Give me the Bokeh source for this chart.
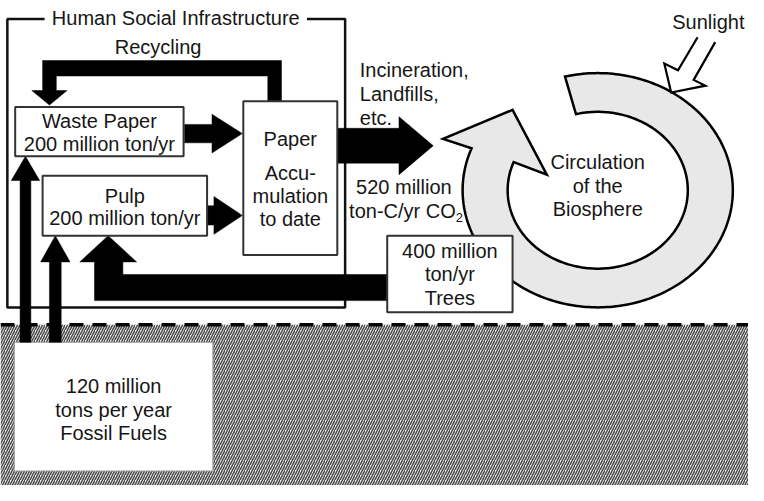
import numpy as np
from bokeh.plotting import figure
from bokeh.models import Range1d
from bokeh.core.properties import value
from bokeh.embed import file_html
from bokeh.resources import INLINE

# ---------------- data (texts of the diagram) ----------------
title_text = "Human Social Infrastructure"
recycling_label = "Recycling"
waste_lines = ["Waste Paper", "200 million ton/yr"]
pulp_lines = ["Pulp", "200 million ton/yr"]
paper_lines = ["Paper", "Accu-", "mulation", "to date"]
disposal_lines = ["Incineration,", "Landfills,", "etc."]
co2_lines = ["520 million", "ton-C/yr CO"]
co2_sub = "2"
biosphere_lines = ["Circulation", "of the", "Biosphere"]
trees_lines = ["400 million", "ton/yr", "Trees"]
fossil_lines = ["120 million", "tons per year", "Fossil Fuels"]
sun_label = "Sunlight"

FONT = value("Liberation Sans")
FS = value("20px")
TXT = "#161616"

W, H = 764, 501
p = figure(width=748, height=485, x_range=Range1d(0, W), y_range=Range1d(H, 0),
           output_backend="svg", toolbar_location=None, min_border=0,
           x_axis_type=None, y_axis_type=None)
p.grid.visible = False
p.outline_line_color = None
p.background_fill_color = "white"
p.border_fill_color = "white"


def h_arrow(x0, xb, xt, yc, sh, hh):
    xs = [x0, xb, xb, xt, xb, xb, x0]
    ys = [yc - sh, yc - sh, yc - hh, yc, yc + hh, yc + sh, yc + sh]
    return xs, ys


def v_arrow(xc, y0, yb, yt, sh, hh):
    xs = [xc - sh, xc - sh, xc - hh, xc, xc + hh, xc + sh, xc + sh]
    ys = [y0, yb, yb, yt, yb, yb, y0]
    return xs, ys


def lines_text(x, ys, texts, align="center"):
    p.text(x=[x] * len(texts), y=ys, text=texts, text_font=FONT, text_font_size=FS,
           text_align=align, text_baseline="middle", text_color=TXT)


# ---------------- ground (hatched) ----------------
p.quad(left=[0], right=[W], top=[335], bottom=[H], fill_color="#f2f2f2",
       hatch_pattern="/", hatch_color="#4a4a4a", hatch_scale=5, hatch_weight=1.5,
       line_color=None)
p.line(x=[0, W], y=[335, 335], line_color="black", line_width=3.5, line_dash="14 9")

# fossil fuel box
p.quad(left=[14], right=[217], top=[353], bottom=[486], fill_color="white",
       line_color="#9a9a9a", line_width=1.2)
lines_text(115.5, [398, 423, 447], fossil_lines)

# ---------------- human social infrastructure frame ----------------
p.line(x=[45, 7, 7, 352, 352, 313], y=[19, 19, 317, 317, 19, 19],
       line_color="#111111", line_width=2.5)
p.text(x=[179], y=[18], text=[title_text], text_font=FONT, text_font_size=FS,
       text_align="center", text_baseline="middle", text_color=TXT)
p.text(x=[161], y=[48], text=[recycling_label], text_font=FONT, text_font_size=FS,
       text_align="center", text_baseline="middle", text_color=TXT)

# ---------------- biosphere ring arrow (behind the Trees box) ----------------
cx, cy = 610, 196
rxo, ryo = 138, 121
rxi, ryi = 92, 81
t = np.radians(np.linspace(-104, 201, 240))
ring_x = list(cx + rxo * np.cos(t))
ring_y = list(cy + ryo * np.sin(t))
ring_x += [452, 523, 558]
ring_y += [143, 113, 180]
ring_x += list(cx + rxi * np.cos(t[::-1]))
ring_y += list(cy + ryi * np.sin(t[::-1]))
p.patch(x=ring_x, y=ring_y, fill_color="#e8e8e8", line_color="black", line_width=2.5,
        line_join="miter")
lines_text(610, [167, 192, 215], biosphere_lines)

# ---------------- black flow arrows ----------------
arrows_x, arrows_y = [], []
for xs, ys in [
    h_arrow(188, 216, 247, 137.5, 9.5, 20),       # waste paper -> paper
    h_arrow(211, 218, 247, 222, 10, 19.5),        # pulp -> paper
    h_arrow(344, 407, 442, 150, 18, 30),          # paper -> CO2
    v_arrow(25.5, 353, 186, 161, 5.5, 14.5),      # fossil -> waste paper
    v_arrow(56, 353, 270, 243, 6, 15),            # fossil -> pulp
]:
    arrows_x.append(xs)
    arrows_y.append(ys)

# recycling loop
arrows_x.append([273, 273, 57, 57, 68, 50, 32, 43, 43, 287, 287])
arrows_y.append([104, 78, 78, 93, 93, 108, 93, 93, 62, 62, 104])
# trees -> pulp
arrows_x.append([395, 125, 125, 139, 110, 81, 96, 96, 395])
arrows_y.append([283, 283, 270, 270, 243, 270, 270, 310, 310])

p.patches(xs=arrows_x, ys=arrows_y, fill_color="black", line_color="black", line_width=0.5)

# ---------------- boxes ----------------
p.quad(left=[15, 43, 248, 395], right=[187, 211, 344, 523],
       top=[110, 181, 104, 243], bottom=[161, 243, 263, 322],
       fill_color="white", line_color="#333333", line_width=2)

lines_text(101, [124, 148], waste_lines)
lines_text(127, [202, 225], pulp_lines)
lines_text(296, [143, 178, 202, 226], paper_lines)
lines_text(459, [259, 283, 307], trees_lines)

# disposal labels
lines_text(367, [72, 97, 121], disposal_lines, align="left")
p.text(x=[412], y=[193], text=[co2_lines[0]], text_font=FONT, text_font_size=FS,
       text_align="center", text_baseline="middle", text_color=TXT)
p.text(x=[465], y=[217], text=[co2_lines[1]], text_font=FONT, text_font_size=FS,
       text_align="right", text_baseline="middle", text_color=TXT)
p.text(x=[465], y=[224], text=[co2_sub], text_font=FONT, text_font_size=value("13px"),
       text_align="left", text_baseline="middle", text_color=TXT)

# ---------------- sunlight arrow ----------------
sun_x = [712, 692, 678, 685, 720, 708, 730]
sun_y = [38, 72, 65, 95, 88, 82, 43]
p.patch(x=sun_x, y=sun_y, fill_color="white", line_color=None)
p.line(x=sun_x, y=sun_y, line_color="black", line_width=2.2, line_join="miter")
p.text(x=[723], y=[22], text=[sun_label], text_font=FONT, text_font_size=FS,
       text_align="center", text_baseline="middle", text_color=TXT)

open("out.html", "w").write(file_html(p, INLINE))
